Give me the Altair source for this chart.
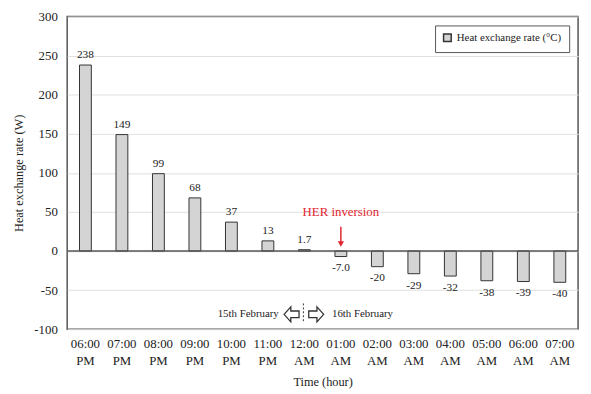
import altair as alt
import pandas as pd

times = ["06:00 PM", "07:00 PM", "08:00 PM", "09:00 PM", "10:00 PM", "11:00 PM", "12:00 AM",
         "01:00 AM", "02:00 AM", "03:00 AM", "04:00 AM", "05:00 AM", "06:00 AM", "07:00 AM"]
values = [238, 149, 99, 68, 37, 13, 1.7, -7.0, -20, -29, -32, -38, -39, -40]
value_labels = ["238", "149", "99", "68", "37", "13", "1.7", "-7.0", "-20", "-29", "-32", "-38", "-39", "-40"]
series_name = "Heat exchange rate (°C)"
y_ticks = [-100, -50, 0, 50, 100, 150, 200, 250, 300]

inversion_time = ["01:00 AM"]
inversion_text = ["HER inversion"]
inversion_text_y = [50]
inversion_arrow_y = [31, 9]
midnight_time = ["12:00 AM"]
date_text_y = [-81]
date_left = ["15th February"]
date_right = ["16th February"]
divider_y = [-67, -92]

FONT = "Liberation Serif"
RED = "#e2262f"

df = pd.DataFrame({"time": times, "value": values, "label": value_labels,
                   "series": [series_name] * len(times)})

x_axis = alt.Axis(title="Time (hour)", labelAngle=0, ticks=False, domain=False,
                  labelExpr="split(datum.label, ' ')", labelLineHeight=17,
                  labelPadding=9, titlePadding=8, labelFontSize=13,
                  labelFont=FONT, titleFont=FONT,
                  titleFontSize=12.5, labelColor="#222", titleColor="#222",
                  titleFontWeight="normal")
x_scale = alt.Scale(paddingInner=0, paddingOuter=0)
y_axis = alt.Axis(title="Heat exchange rate (W)", values=y_ticks,
                  labelExpr="datum.value < 0 ? '-' + abs(datum.value) : '' + datum.value",
                  labelOverlap=False, labelFlush=False, labelBound=False,
                  ticks=False, domain=False, grid=True, gridColor="#e0e0e0",
                  labelPadding=10, titlePadding=8, labelFontSize=13,
                  labelFont=FONT, titleFont=FONT,
                  titleFontSize=12.5, labelColor="#222", titleColor="#222",
                  titleFontWeight="normal")
y_scale = alt.Scale(domain=[-100, 300], nice=False, zero=False)


def X():
    return alt.X("time:N", sort=times, scale=x_scale, axis=x_axis)


def Y(field):
    return alt.Y(field, scale=y_scale, axis=y_axis)


base = alt.Chart(df)

bars = base.mark_bar(width=12, stroke="#333", strokeWidth=1).encode(
    x=X(), y=Y("value:Q"),
    color=alt.Color("series:N", scale=alt.Scale(range=["#d4d4d4"]),
                    legend=alt.Legend(title=None, orient="top-right", offset=9,
                                      strokeColor="#555", fillColor="white", padding=7,
                                      symbolType="square", symbolSize=60,
                                      symbolStrokeColor="#333", symbolStrokeWidth=1.5,
                                      labelFont=FONT, labelFontSize=11, labelColor="#222")),
)

pos_labels = base.transform_filter("datum.value >= 0").mark_text(
    baseline="bottom", dy=-5, font=FONT, fontSize=11.5, color="#222").encode(
    x=X(), y=Y("value:Q"), text="label:N")
neg_labels = base.transform_filter("datum.value < 0").mark_text(
    baseline="top", dy=6, font=FONT, fontSize=11.5, color="#222").encode(
    x=X(), y=Y("value:Q"), text="label:N")

zero = alt.Chart(pd.DataFrame({"y": [0]})).mark_rule(color="#555", strokeWidth=1.5).encode(
    y=Y("y:Q"))

her_df = pd.DataFrame({"time": inversion_time, "t": inversion_text, "y": inversion_text_y})
her_text = alt.Chart(her_df).mark_text(font=FONT, fontSize=13, color=RED).encode(
    x=X(), y=Y("y:Q"), text="t:N")
arrow_df = pd.DataFrame({"time": inversion_time, "y1": [inversion_arrow_y[0]],
                         "y2": [inversion_arrow_y[1]]})
her_arrow = alt.Chart(arrow_df).mark_rule(color=RED, strokeWidth=1.5).encode(
    x=X(), y=Y("y1:Q"), y2="y2:Q")
her_head = alt.Chart(arrow_df).mark_point(shape="triangle-down", filled=True, color=RED,
                                          size=40, opacity=1).encode(
    x=X(), y=Y("y2:Q"))

date_df = pd.DataFrame({"time": midnight_time, "y": date_text_y, "l": date_left,
                        "r": date_right, "d1": [divider_y[0]], "d2": [divider_y[1]]})
left_text = alt.Chart(date_df).mark_text(align="right", dx=-26, font=FONT, fontSize=11,
                                         color="#222").encode(
    x=X(), y=Y("y:Q"), text="l:N")
right_text = alt.Chart(date_df).mark_text(align="left", dx=28, font=FONT, fontSize=11,
                                          color="#222").encode(
    x=X(), y=Y("y:Q"), text="r:N")
left_path = "M-1,0 L-0.1,-1 L-0.1,-0.45 L1,-0.45 L1,0.45 L-0.1,0.45 L-0.1,1 Z"
right_path = "M1,0 L0.1,-1 L0.1,-0.45 L-1,-0.45 L-1,0.45 L0.1,0.45 L0.1,1 Z"
left_arrow = alt.Chart(date_df).mark_point(shape=left_path, size=230, filled=True,
                                           fill="white", stroke="#333", strokeWidth=1.3,
                                           opacity=1, xOffset=-13).encode(
    x=X(), y=Y("y:Q"))
right_arrow = alt.Chart(date_df).mark_point(shape=right_path, size=230, filled=True,
                                            fill="white", stroke="#333", strokeWidth=1.3,
                                            opacity=1, xOffset=12).encode(
    x=X(), y=Y("y:Q"))
divider = alt.Chart(date_df).mark_rule(color="#333", strokeWidth=1, strokeDash=[2, 2],
                                       xOffset=-1).encode(
    x=X(), y=Y("d1:Q"), y2="d2:Q")

chart = alt.layer(
    bars, zero, pos_labels, neg_labels, her_text, her_arrow, her_head,
    left_text, right_text, left_arrow, right_arrow, divider
).properties(
    width=518, height=317,
    background="white",
    autosize=alt.AutoSizeParams(type="none"),
    padding={"left": 60, "top": 6, "right": 5, "bottom": 62},
).configure_view(
    stroke="#555", strokeWidth=1.5
).configure_axisY(
    labelOverlap=False
)

chart.save("out.html", embed_options={"renderer": "svg", "actions": False})
